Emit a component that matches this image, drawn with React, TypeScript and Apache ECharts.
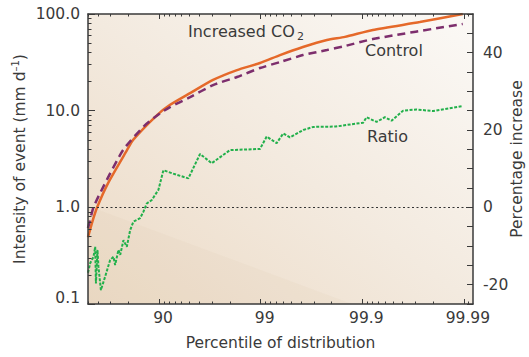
import React, { useEffect, useRef } from 'react';
import * as echarts from 'echarts';

// x position = -log10(1 - percentile/100): 1 -> 90th, 2 -> 99th, 3 -> 99.9th, 4 -> 99.99th
const xTickPositions = [1, 2, 3, 4];
const xTickLabels = ['90', '99', '99.9', '99.99'];
const rightTickLabels = [-20, 0, 20, 40];
const minorMantissas = [2, 3, 4, 5, 6, 7, 8, 9];

const X_MIN = 0.3;
const X_MAX = 4.09;

const co2X = [0.30, 0.341, 0.39, 0.499, 0.685, 0.744, 0.98, 1.108, 1.305, 1.531, 1.767, 1.993, 2.19, 2.416, 2.652, 2.829, 3.104, 3.566, 3.989];
const co2Y = [0.49, 0.70, 1.0, 1.79, 3.92, 4.98, 9.0, 11.5, 15.2, 20.8, 26.3, 31.1, 37.6, 45.6, 53.9, 58, 68.3, 82.6, 100];

const controlX = [0.30, 0.354, 0.449, 0.646, 0.862, 1.01, 1.108, 1.305, 1.531, 1.767, 1.993, 2.19, 2.416, 2.652, 2.829, 3.104, 3.989];
const controlY = [0.61, 1.0, 1.62, 3.92, 7.1, 9.4, 10.9, 13.8, 18.4, 22.3, 27.6, 31.8, 37.6, 42.4, 46.6, 55.1, 78.9];

const ratioX = [0.30, 0.322, 0.354, 0.371, 0.378, 0.393, 0.403, 0.427, 0.469, 0.518, 0.551, 0.567, 0.600, 0.617, 0.649, 0.682, 0.715, 0.747, 0.813, 0.846, 0.879, 0.928, 0.993, 1.042, 1.174, 1.288, 1.403, 1.518, 1.698, 1.993, 2.059, 2.157, 2.222, 2.288, 2.419, 2.518, 2.740, 3.009, 3.042, 3.141, 3.222, 3.288, 3.402, 3.534, 3.697, 3.992];
const ratioY = [-16.9, -14.4, -12.8, -10.2, -19.7, -11.0, -15.4, -21.4, -17.9, -13.6, -12.8, -14.9, -11.0, -12.3, -8.5, -10.2, -5.9, -3.7, -2.8, -1.1, 1.0, 1.9, 4.5, 9.6, 8.4, 7.5, 13.8, 11.4, 14.8, 15.1, 18.3, 16.6, 19.1, 18.1, 20.0, 20.8, 20.9, 21.9, 23.3, 22.1, 23.3, 22.4, 25.0, 25.3, 24.9, 26.2];

const FONT = 'DejaVu Sans';
const TEXT = '#3a3a3a';
const AXIS = '#3a3a3a';

const xMinorTicks: number[] = [];
for (let d = 0; d <= 4; d++) {
  for (const m of minorMantissas) {
    const t = d + 1 - Math.log10(m);
    if (t >= X_MIN && t <= X_MAX) xMinorTicks.push(t);
  }
}
const yMinorTicks: number[] = [];
for (const e of [0.1, 1, 10]) {
  for (const m of minorMantissas) yMinorTicks.push(+(m * e).toPrecision(3));
}

const zip = (xs: number[], ys: number[]) => xs.map((x, i) => [x, ys[i]]);

export default function App() {
  const ref = useRef<HTMLDivElement>(null);
  useEffect(() => {
    if (!ref.current) return;
    const chart = echarts.init(ref.current, undefined, { renderer: 'svg' });
    const line = { show: true, onZero: false, lineStyle: { color: AXIS, width: 1.5 } };
    const baseX = {
      type: 'value' as const,
      min: X_MIN,
      max: X_MAX,
      splitLine: { show: false },
      z: 5,
    };
    chart.setOption({
      animation: false,
      grid: {
        left: 88,
        top: 14,
        width: 385,
        height: 290,
        show: true,
        borderWidth: 0,
        outerBoundsMode: 'none',
        containLabel: false,
        backgroundColor: {
          type: 'linear', x: 0, y: 1, x2: 1, y2: 0,
          colorStops: [
            { offset: 0, color: '#ecdac5' },
            { offset: 0.5, color: '#f3eadf' },
            { offset: 1, color: '#fbf9f6' },
          ],
        },
      },
      graphic: [
        {
          type: 'polygon', z: 1, silent: true,
          shape: { points: [[88, 206], [88, 304], [352, 304]] },
          style: { fill: 'rgba(215,185,150,0.09)' },
        },
        {
          type: 'text', z: 10, left: 188, top: 23,
          style: { text: 'Increased CO', font: `16px "${FONT}"`, fill: TEXT },
        },
        {
          type: 'text', z: 10, left: 297, top: 31,
          style: { text: '2', font: `11px "${FONT}"`, fill: TEXT },
        },
        {
          type: 'text', z: 10, left: 365, top: 42,
          style: { text: 'Control', font: `16px "${FONT}"`, fill: TEXT },
        },
        {
          type: 'text', z: 10, left: 367, top: 128,
          style: { text: 'Ratio', font: `16px "${FONT}"`, fill: TEXT },
        },
      ],
      xAxis: [
        {
          ...baseX,
          position: 'bottom',
          axisLine: line,
          axisTick: { show: true, inside: true, length: 5, customValues: xTickPositions, lineStyle: { color: AXIS, width: 1 } },
          axisLabel: {
            customValues: xTickPositions,
            formatter: (v: number) => xTickLabels[xTickPositions.indexOf(Math.round(v))] ?? '',
            color: TEXT, fontFamily: FONT, fontSize: 15.5, margin: 6, padding: [0, 0, 0, 8],
          },
          name: 'Percentile of distribution',
          nameLocation: 'middle',
          nameGap: 31,
          nameTextStyle: { color: TEXT, fontFamily: FONT, fontSize: 15.5 },
        },
        {
          ...baseX,
          position: 'bottom',
          axisLine: { show: false, onZero: false },
          axisTick: { show: true, inside: true, length: 2.5, customValues: xMinorTicks, lineStyle: { color: AXIS, width: 1 } },
          axisLabel: { show: false },
        },
        {
          ...baseX,
          position: 'top',
          axisLine: line,
          axisTick: { show: true, inside: true, length: 5, customValues: xTickPositions, lineStyle: { color: AXIS, width: 1 } },
          axisLabel: { show: false },
        },
        {
          ...baseX,
          position: 'top',
          axisLine: { show: false, onZero: false },
          axisTick: { show: true, inside: true, length: 2.5, customValues: xMinorTicks, lineStyle: { color: AXIS, width: 1 } },
          axisLabel: { show: false },
        },
      ],
      yAxis: [
        {
          type: 'log',
          logBase: 10,
          min: 0.1,
          max: 100,
          position: 'left',
          z: 5,
          axisLine: line,
          axisTick: { show: true, inside: true, length: 7, lineStyle: { color: AXIS, width: 1 } },
          splitLine: { show: false },
          axisLabel: {
            color: TEXT, fontFamily: FONT, fontSize: 15.5, margin: 8,
            formatter: (v: number) => (v < 0.5 ? '{lo|0.1}' : v.toFixed(1)),
            rich: { lo: { fontFamily: FONT, fontSize: 15.5, color: TEXT, padding: [0, 0, 12, 0] } },
          },
          name: 'Intensity of event (mm d{sup|–1})',
          nameLocation: 'middle',
          nameRotate: 90,
          nameMoveOverlap: false,
          nameGap: 59,
          nameTextStyle: {
            color: TEXT, fontFamily: FONT, fontSize: 15.5,
            rich: { sup: { fontFamily: FONT, fontSize: 10, color: TEXT, padding: [0, 0, 9, 0] } },
          },
        },
        {
          type: 'log',
          logBase: 10,
          min: 0.1,
          max: 100,
          position: 'left',
          z: 5,
          axisLine: { show: false, onZero: false },
          axisTick: { show: true, inside: true, length: 3.5, customValues: yMinorTicks, lineStyle: { color: AXIS, width: 1 } },
          axisLabel: { show: false },
          splitLine: { show: false },
        },
        {
          type: 'value',
          min: -25,
          max: 50,
          interval: 5,
          position: 'right',
          z: 5,
          axisLine: line,
          axisTick: { show: true, inside: true, length: 6, lineStyle: { color: AXIS, width: 1 } },
          splitLine: { show: false },
          axisLabel: {
            customValues: rightTickLabels,
            color: TEXT, fontFamily: FONT, fontSize: 15.5, margin: 10,
          },
          name: 'Percentage increase',
          nameLocation: 'middle',
          nameRotate: 90,
          nameMoveOverlap: false,
          nameGap: 36,
          nameTextStyle: { color: TEXT, fontFamily: FONT, fontSize: 15.5 },
        },
      ],
      series: [
        {
          name: 'Increased CO2',
          type: 'line',
          xAxisIndex: 0,
          yAxisIndex: 0,
          data: zip(co2X, co2Y),
          showSymbol: false,
          symbol: 'none',
          smooth: 0.2,
          lineStyle: { color: '#e5692a', width: 2.5 },
          z: 3,
        },
        {
          name: 'Control',
          type: 'line',
          xAxisIndex: 0,
          yAxisIndex: 0,
          data: zip(controlX, controlY),
          showSymbol: false,
          symbol: 'none',
          smooth: 0.2,
          lineStyle: { color: '#7d2e6d', width: 2.5, type: [8, 5] },
          z: 4,
        },
        {
          name: 'Ratio',
          type: 'line',
          xAxisIndex: 0,
          yAxisIndex: 2,
          data: zip(ratioX, ratioY),
          showSymbol: false,
          symbol: 'none',
          lineStyle: { color: '#22b04b', width: 2, type: [3, 1.5] },
          z: 4,
          markLine: {
            silent: true,
            symbol: 'none',
            label: { show: false },
            lineStyle: { color: '#333', width: 1, type: [2, 2.5] },
            data: [{ yAxis: 0 }],
          },
        },
      ],
    });
    return () => chart.dispose();
  }, []);
  return <div ref={ref} style={{ position: 'absolute', left: 0, top: 0, width: 529, height: 357 }} />;
}
